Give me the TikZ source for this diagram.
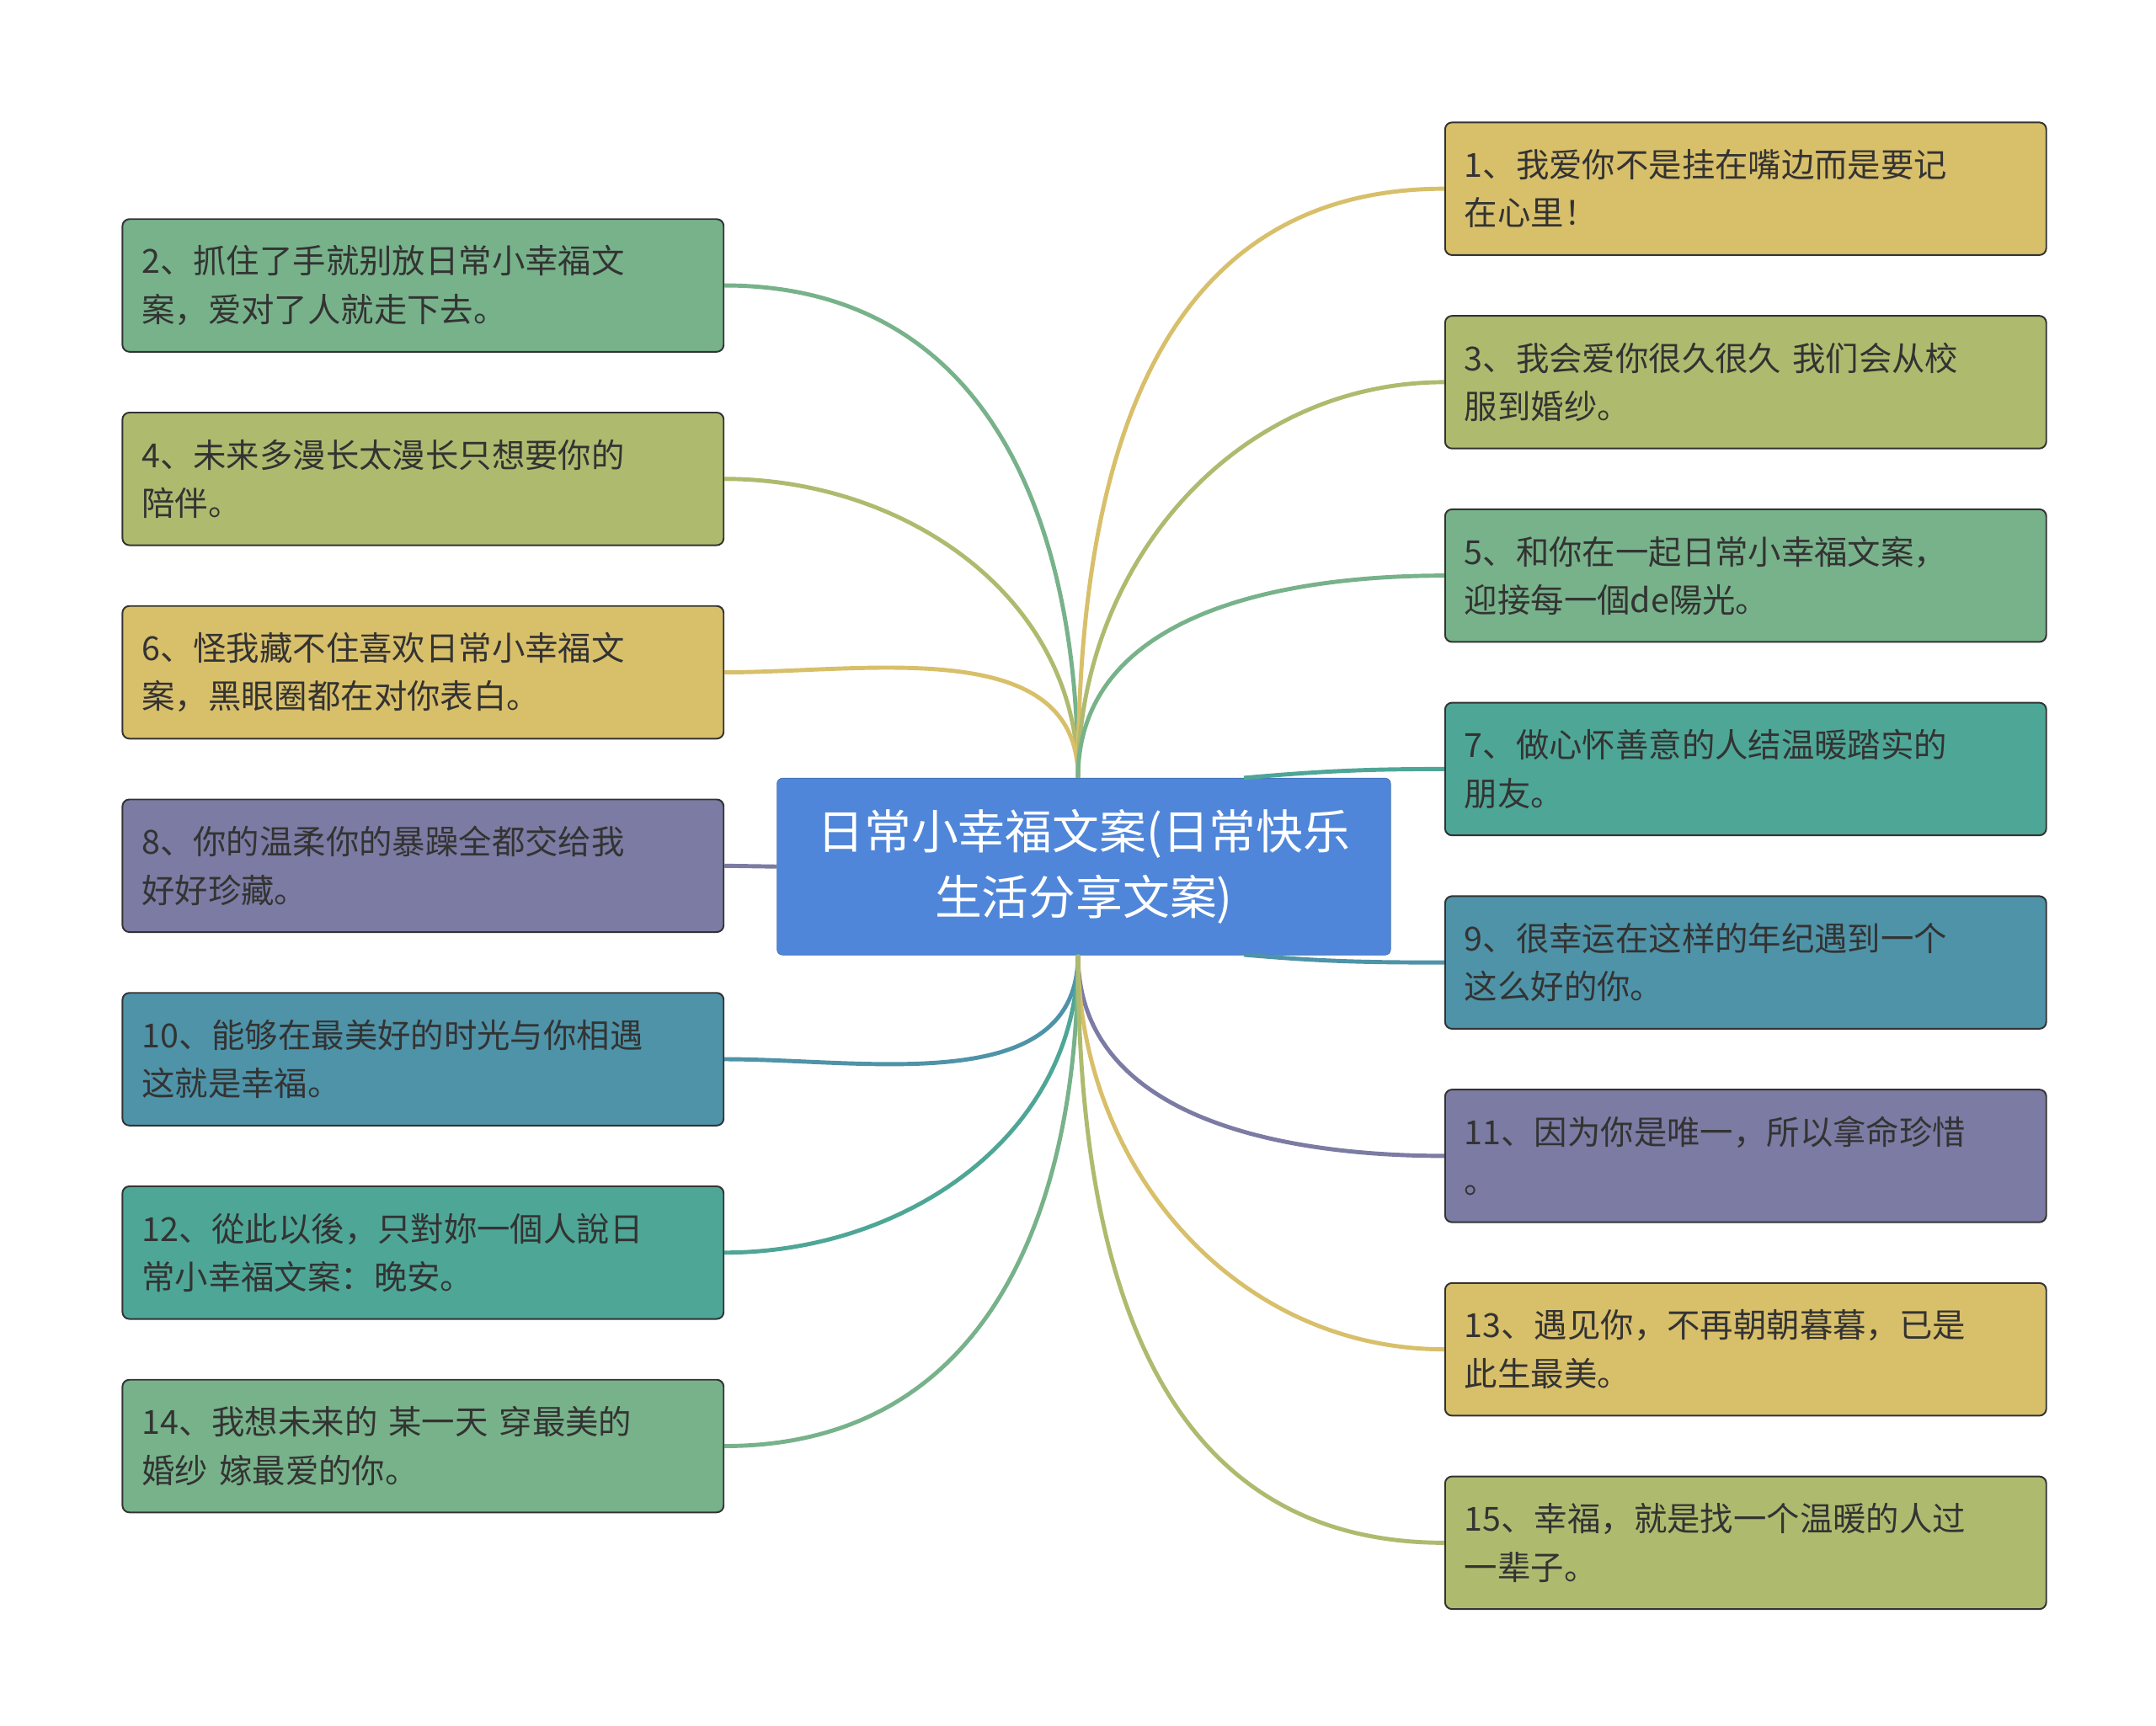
\documentclass[tikz,border=0pt]{standalone}
\usepackage{fontspec}
\setmainfont{Noto Sans CJK SC}
\begin{document}
\begin{tikzpicture}[x=1pt,y=-1pt,
 leaf/.style={draw=black!80,line width=1.2pt,rounded corners=5pt,minimum width=435pt,minimum height=96pt,anchor=north west,text width=407pt,inner xsep=14pt,align=left,font=\fontsize{24}{35}\selectfont,text=black!80},
 con/.style={line width=3pt}]
\definecolor{cg}{HTML}{77B28A}\definecolor{co}{HTML}{AEBB6E}\definecolor{cy}{HTML}{D8BF6A}
\definecolor{cp}{HTML}{7B7BA3}\definecolor{cb}{HTML}{4E93A8}\definecolor{ct}{HTML}{4EA696}
\definecolor{cc}{HTML}{4F86DA}
\useasboundingbox (0,0) rectangle (1560,1249);
\node[fill=cc,draw=cc!80!black,rounded corners=4pt,minimum width=444pt,minimum height=128pt,anchor=north west,align=center,text=white,font=\fontsize{34}{48}\selectfont] (c) at (562,563) {日常小幸福文案(日常快乐\\生活分享文案)};
\coordinate (ct) at (780,563); \coordinate (cbt) at (780,691);
\coordinate (ctr) at (900,563); \coordinate (cbr) at (900,691);
% left
\node[leaf,fill=cg] (l2) at (88,158) {2、抓住了手就别放日常小幸福文\\案，爱对了人就走下去。};
\node[leaf,fill=co] (l4) at (88,298) {4、未来多漫长太漫长只想要你的\\陪伴。};
\node[leaf,fill=cy] (l6) at (88,438) {6、怪我藏不住喜欢日常小幸福文\\案，黑眼圈都在对你表白。};
\node[leaf,fill=cp] (l8) at (88,578) {8、你的温柔你的暴躁全都交给我\\好好珍藏。};
\node[leaf,fill=cb] (l10) at (88,718) {10、能够在最美好的时光与你相遇\\这就是幸福。};
\node[leaf,fill=ct] (l12) at (88,858) {12、從此以後，只對妳一個人說日\\常小幸福文案：晚安。};
\node[leaf,fill=cg] (l14) at (88,998) {14、我想未来的 某一天 穿最美的\\婚纱 嫁最爱的你。};
% right
\node[leaf,fill=cy] (r1) at (1045,88) {1、我爱你不是挂在嘴边而是要记\\在心里！};
\node[leaf,fill=co] (r3) at (1045,228) {3、我会爱你很久很久 我们会从校\\服到婚纱。};
\node[leaf,fill=cg] (r5) at (1045,368) {5、和你在一起日常小幸福文案，\\迎接每一個de陽光。};
\node[leaf,fill=ct] (r7) at (1045,508) {7、做心怀善意的人结温暖踏实的\\朋友。};
\node[leaf,fill=cb] (r9) at (1045,648) {9、很幸运在这样的年纪遇到一个\\这么好的你。};
\node[leaf,fill=cp] (r11) at (1045,788) {11、因为你是唯一，所以拿命珍惜\\。};
\node[leaf,fill=cy] (r13) at (1045,928) {13、遇见你，不再朝朝暮暮，已是\\此生最美。};
\node[leaf,fill=co] (r15) at (1045,1068) {15、幸福，就是找一个温暖的人过\\一辈子。};
% connectors
\draw[con,cg] (ct) to[out=90,in=0,looseness=1.1] (l2.east);
\draw[con,co] (ct) to[out=90,in=0] (l4.east);
\draw[con,cy] (ct) to[out=90,in=0] (l6.east);
\draw[con,cp] (c.west) -- (l8.east);
\draw[con,cb] (cbt) to[out=-90,in=0] (l10.east);
\draw[con,ct] (cbt) to[out=-90,in=0] (l12.east);
\draw[con,cg] (cbt) to[out=-90,in=0,looseness=1.1] (l14.east);
\draw[con,cy] (ct) to[out=90,in=180,looseness=1.1] (r1.west);
\draw[con,co] (ct) to[out=90,in=180] (r3.west);
\draw[con,cg] (ct) to[out=90,in=180] (r5.west);
\draw[con,ct] (ctr) to[out=5,in=180] (r7.west);
\draw[con,cb] (cbr) to[out=-5,in=180] (r9.west);
\draw[con,cp] (cbt) to[out=-90,in=180] (r11.west);
\draw[con,cy] (cbt) to[out=-90,in=180] (r13.west);
\draw[con,co] (cbt) to[out=-90,in=180,looseness=1.1] (r15.west);
\end{tikzpicture}
\end{document}
